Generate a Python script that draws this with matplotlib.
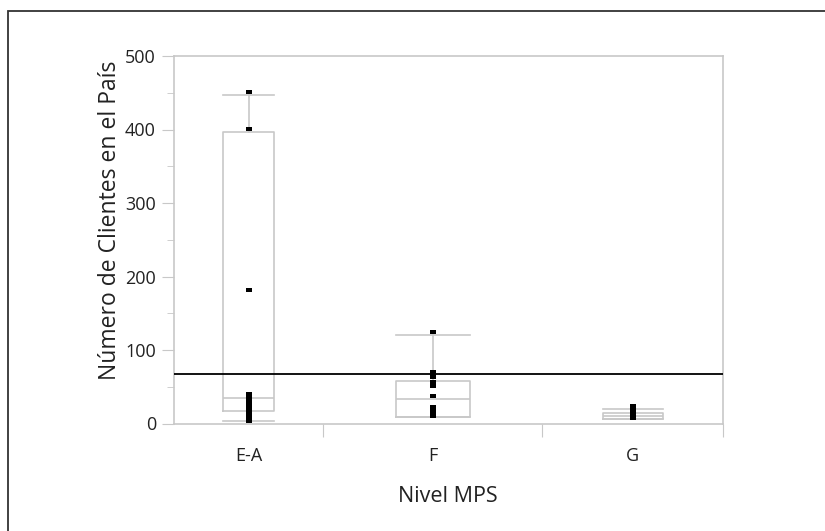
import matplotlib
matplotlib.use("Agg")
import matplotlib.pyplot as plt
from matplotlib.path import Path
from matplotlib.patches import Rectangle

plt.rcParams['font.family'] = ['Open Sans', 'DejaVu Sans']

# ---- data ----
categories = ["E-A", "F", "G"]
q1 = [17, 8.5, 6]
median = [35, 33, 10]
q3 = [396, 58, 14.5]
whisker_low = [3.5, 8.5, 6]
whisker_high = [447, 120, 19.5]
points_ea = [451, 401, 182, 40, 37, 33, 30, 27, 24, 21, 18, 15, 12, 9, 6, 4]
points_f = [124, 70, 67, 63, 56, 51, 37, 22, 19, 16, 13, 10]
points_g = [24, 22, 20, 18, 16, 14, 12, 10, 8]
grand_mean = 67.5
y_ticks = [0, 100, 200, 300, 400, 500]

# ---- layout (group widths proportional to sample size, as in JMP) ----
group_widths = [149, 219, 181]
bounds = [0]
for w in group_widths:
    bounds.append(bounds[-1] + w)
centers = [(bounds[i] + bounds[i + 1]) / 2 for i in range(3)]
box_widths = [51, 74, 60]

fig = plt.figure(figsize=(8.25, 5.31), dpi=100)
ax = fig.add_axes([174 / 825, 1 - 423.5 / 531, (723 - 174) / 825, (423.5 - 56) / 531])

gray = '#c8c8c8'
stats = []
for i in range(3):
    stats.append(dict(med=median[i], q1=q1[i], q3=q3[i],
                      whislo=whisker_low[i], whishi=whisker_high[i], fliers=[]))
ax.bxp(stats, positions=centers, widths=box_widths, capwidths=box_widths,
       showfliers=False, manage_ticks=False,
       boxprops=dict(color=gray, lw=1.2),
       medianprops=dict(color=gray, lw=1.2),
       whiskerprops=dict(color=gray, lw=1.2),
       capprops=dict(color=gray, lw=1.2))

ax.axhline(grand_mean, color='black', lw=1.3, zorder=3)

rect_marker = Path([(-1, -0.7), (1, -0.7), (1, 0.7), (-1, 0.7), (-1, -0.7)],
                   [Path.MOVETO, Path.LINETO, Path.LINETO, Path.LINETO, Path.CLOSEPOLY])
for c, pts in zip(centers, [points_ea, points_f, points_g]):
    ax.plot([c] * len(pts), pts, linestyle='none', marker=rect_marker,
            markersize=3.8, color='black', markeredgewidth=0, zorder=4)

ax.set_xlim(bounds[0], bounds[-1])
ax.set_ylim(0, 500)

ax.set_yticks(y_ticks)
ax.set_yticks([50, 150, 250, 350, 450], minor=True)
ax.tick_params(axis='y', which='major', length=9, color=gray, labelsize=13,
               labelcolor='#222222', pad=4)
ax.tick_params(axis='y', which='minor', length=5, color=gray)

ax.set_xticks(bounds[1:])
ax.set_xticklabels([])
ax.set_xticks(centers, minor=True)
ax.set_xticklabels(categories, minor=True)
ax.tick_params(axis='x', which='major', length=9, color=gray)
ax.tick_params(axis='x', which='minor', length=0, labelsize=13,
               labelcolor='#222222', pad=17)

for s in ax.spines.values():
    s.set_color(gray)
    s.set_linewidth(1.2)

fig.text(448 / 825, 1 - 497 / 531, "Nivel MPS", ha='center', va='center',
         fontsize=15.5, color='#222222')
fig.text(110 / 825, 1 - 220 / 531, "Número de Clientes en el País", ha='center',
         va='center', rotation=90, fontsize=16.5, color='#222222')

# outer frame
fig.patches.append(Rectangle((8 / 825, -0.1), 1.1, 1.1 - 10.5 / 531,
                             transform=fig.transFigure, fill=False,
                             edgecolor='#333333', lw=1.3))

fig.savefig("out.png", dpi=100)
